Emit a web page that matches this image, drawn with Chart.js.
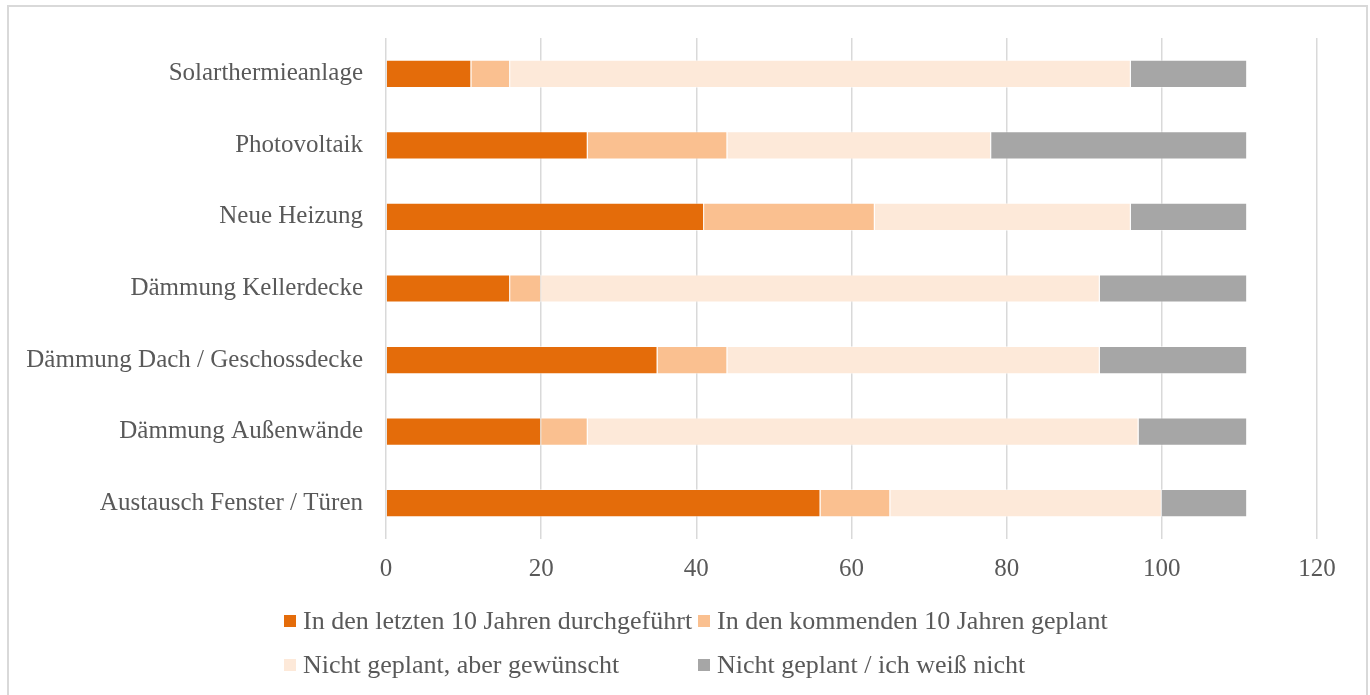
<!DOCTYPE html>
<html>
<head>
<meta charset="utf-8">
<script src="https://cdn.jsdelivr.net/npm/chart.js"></script>
<style>
    body { margin: 0; background: #fff; }
    #wrap { position: relative; width: 1370px; height: 695px; overflow: hidden; }
    #frame { position: absolute; left: 7px; top: 5px; width: 1357px; height: 720px; border: 2px solid #d9d9d9; }
    #legend {
        position: absolute; left: 284px; top: 599px;
        display: grid; grid-template-columns: 414px auto;
        font-family: "Liberation Serif", serif; font-size: 26px; color: #595959;
    }
    .item { display: flex; align-items: center; height: 44px; white-space: nowrap; }
    .box { width: 12px; height: 12px; margin-right: 7px; flex: none; }
</style>
</head>
<body>
<div id="wrap">
    <div id="frame"></div>
    <canvas id="chart" width="1370" height="695"></canvas>
    <div id="legend"></div>
</div>
<script>
// Kategorien (von oben nach unten)
const categories = [
    'Solarthermieanlage',
    'Photovoltaik',
    'Neue Heizung',
    'Dämmung Kellerdecke',
    'Dämmung Dach / Geschossdecke',
    'Dämmung Außenwände',
    'Austausch Fenster / Türen'
];

const seriesNames = [
    'In den letzten 10 Jahren durchgeführt',
    'In den kommenden 10 Jahren geplant',
    'Nicht geplant, aber gewünscht',
    'Nicht geplant / ich weiß nicht'
];

const durchgefuehrt = [11, 26, 41, 16, 35, 20, 56];
const geplant       = [5, 18, 22, 4, 9, 6, 9];
const gewuenscht    = [80, 34, 33, 72, 48, 71, 35];
const nichtGeplant  = [15, 33, 15, 19, 19, 14, 11];

const colors = ['#e46c0a', '#fac090', '#fde9d9', '#a6a6a6'];

const textColor = '#595959';
const fontFamily = '"Liberation Serif", serif';

const values = [durchgefuehrt, geplant, gewuenscht, nichtGeplant];

const ctx = document.getElementById('chart').getContext('2d');
const chart = new Chart(ctx, {
    type: 'bar',
    data: {
        labels: categories,
        datasets: values.map((v, i) => ({
            label: seriesNames[i],
            data: v,
            backgroundColor: colors[i],
            borderColor: 'rgba(255,255,255,0.45)',
            borderWidth: 1,
            categoryPercentage: 1,
            barPercentage: 0.394
        }))
    },
    options: {
        indexAxis: 'y',
        responsive: false,
        animation: false,
        layout: {
            padding: { top: 36, right: 53, bottom: 111, left: 0 }
        },
        scales: {
            x: {
                stacked: true,
                min: 0,
                max: 120,
                ticks: {
                    stepSize: 20,
                    padding: 15,
                    color: textColor,
                    font: { family: fontFamily, size: 25 }
                },
                grid: {
                    color: '#d9d9d9',
                    lineWidth: 1.5,
                    drawTicks: false
                },
                border: { display: false },
                afterFit: scale => { scale.height = 45; }
            },
            y: {
                stacked: true,
                ticks: {
                    padding: 23,
                    color: textColor,
                    font: { family: fontFamily, size: 25 }
                },
                grid: { display: false, drawTicks: false },
                border: { display: false },
                afterFit: scale => { scale.width = 386; }
            }
        },
        plugins: {
            legend: { display: false },
            tooltip: { enabled: false }
        }
    }
});

// Legende in zwei Spalten
const legendEl = document.getElementById('legend');
chart.data.datasets.forEach(ds => {
    const item = document.createElement('div');
    item.className = 'item';
    const box = document.createElement('span');
    box.className = 'box';
    box.style.background = ds.backgroundColor;
    const txt = document.createElement('span');
    txt.textContent = ds.label;
    item.appendChild(box);
    item.appendChild(txt);
    legendEl.appendChild(item);
});
</script>
</body>
</html>
